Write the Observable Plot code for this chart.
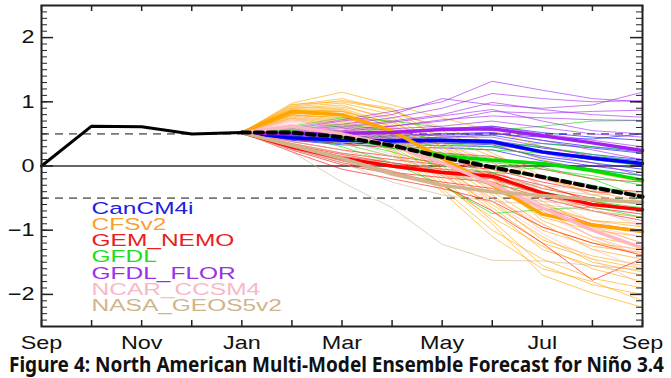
<!DOCTYPE html>
<html><head><meta charset="utf-8">
<script src="https://cdn.jsdelivr.net/npm/d3@7"></script>
<script src="https://cdn.jsdelivr.net/npm/@observablehq/plot@0.6"></script>
<style>
body{margin:0;background:#fff;width:671px;height:378px;overflow:hidden}
#chart svg{display:block}
#title{font-family:"Noto Sans",sans-serif;font-weight:700;font-size:21px;white-space:nowrap;line-height:24px;height:26px;padding-left:9px;color:#111}
#title span{display:inline-block;transform-origin:left center}
</style></head><body>
<div id="chart"></div>
<div id="title"><span>Figure 4: North American Multi-Model Ensemble Forecast for Niño 3.4</span></div>
<script>
// Month index: 0 = Sep (start), 12 = Sep (next year)
const xTickMonths = [0, 2, 4, 6, 8, 10, 12];
const xTickLabels = ["Sep", "Nov", "Jan", "Mar", "May", "Jul", "Sep"];
const yTickValues = [-2, -1, 0, 1, 2];
const yTickLabels = ["−2", "−1", "0", "1", "2"];

const obsMonths = [0, 1, 2, 3, 4];
const observed = [0.00, 0.62, 0.61, 0.50, 0.52];

const fcMonths = [4, 5, 6, 7, 8, 9, 10, 11, 12]; // Jan .. Sep

const models = ["CanCM4i", "CFSv2", "GEM_NEMO", "GFDL", "GFDL_FLOR", "NCAR_CCSM4", "NASA_GEOS5v2"];
const lineColors = ["#0000ff", "#ffa500", "#ff0000", "#00dd00", "#a020f0", "#ffb6c1", "#d2b48c"];
const legendColors = ["#2020e0", "#f8a030", "#e82020", "#20dd20", "#9a30e8", "#f8b8c8", "#d0b48c"];

const CanCM4i_mean = [0.52, 0.44, 0.40, 0.39, 0.40, 0.38, 0.22, 0.12, 0.04];
const CanCM4i_members = [
  [0.52,0.48,0.50,0.52,0.58,0.62,0.52,0.45,0.40],
  [0.52,0.46,0.45,0.47,0.50,0.52,0.40,0.30,0.22],
  [0.52,0.44,0.40,0.38,0.38,0.35,0.20,0.10,0.02],
  [0.52,0.42,0.36,0.33,0.32,0.30,0.15,0.05,-0.05],
  [0.52,0.45,0.42,0.42,0.45,0.48,0.35,0.28,0.20],
  [0.52,0.40,0.33,0.30,0.28,0.25,0.08,-0.05,-0.15],
  [0.52,0.47,0.46,0.44,0.42,0.40,0.28,0.18,0.10],
  [0.52,0.43,0.38,0.36,0.36,0.33,0.12,0.00,-0.10],
  [0.52,0.45,0.44,0.46,0.48,0.50,0.45,0.42,0.50],
  [0.52,0.41,0.35,0.35,0.38,0.36,0.22,0.15,0.08]
];

const CFSv2_mean = [0.52, 0.85, 0.80, 0.55, 0.12, -0.30, -0.75, -0.92, -1.02];
const CFSv2_members = [
  [0.52,0.98,1.15,0.95,0.75,0.55,0.30,0.15,0.00],
  [0.52,0.95,1.05,0.85,0.60,0.35,0.10,-0.10,-0.25],
  [0.52,0.92,0.98,0.80,0.45,0.15,-0.20,-0.40,-0.55],
  [0.52,0.90,0.95,0.70,0.30,-0.05,-0.45,-0.70,-0.80],
  [0.52,0.88,0.90,0.65,0.20,-0.20,-0.60,-0.85,-0.95],
  [0.52,0.86,0.88,0.60,0.15,-0.30,-0.80,-1.00,-1.10],
  [0.52,0.85,0.85,0.55,0.05,-0.45,-1.00,-1.25,-1.35],
  [0.52,0.84,0.82,0.50,0.00,-0.55,-1.15,-1.40,-1.55],
  [0.52,0.83,0.80,0.48,-0.10,-0.70,-1.30,-1.55,-1.70],
  [0.52,0.82,0.78,0.45,-0.20,-0.85,-1.55,-1.85,-2.00],
  [0.52,0.80,0.75,0.42,-0.25,-0.90,-1.70,-1.98,-2.20],
  [0.52,0.80,0.72,0.40,0.10,-0.25,-0.65,-0.85,-0.90],
  [0.52,0.78,0.70,0.35,-0.05,-0.50,-0.95,-1.20,-1.30],
  [0.52,0.76,0.68,0.30,-0.15,-0.60,-1.10,-1.50,-1.65],
  [0.52,0.75,0.65,0.28,-0.30,-0.80,-1.25,-1.60,-1.80],
  [0.52,0.74,0.62,0.25,-0.35,-1.00,-1.45,-1.75,-1.90],
  [0.52,0.72,0.60,0.22,-0.40,-1.10,-1.60,-1.80,-2.10],
  [0.52,0.90,0.92,0.75,0.35,0.05,-0.30,-0.55,-0.70],
  [0.52,0.87,0.86,0.62,0.25,-0.10,-0.55,-0.95,-1.20],
  [0.52,0.96,1.00,0.88,0.55,0.20,-0.15,-0.45,-0.60],
  [0.52,0.82,0.80,0.58,0.10,-0.40,-0.90,-1.30,-1.45],
  [0.52,0.79,0.76,0.52,-0.05,-0.65,-1.20,-1.45,-1.60],
  [0.52,0.93,1.02,0.90,0.40,-0.15,-0.70,-1.10,-1.25],
  [0.52,0.85,0.85,0.68,0.30,-0.20,-0.85,-1.15,-1.40]
];

const GEM_NEMO_mean = [0.52, 0.30, 0.12, 0.00, -0.10, -0.16, -0.42, -0.60, -0.68];
const GEM_NEMO_members = [
  [0.52,0.42,0.35,0.28,0.20,0.15,-0.05,-0.20,-0.25],
  [0.52,0.35,0.20,0.10,0.02,-0.05,-0.25,-0.40,-0.45],
  [0.52,0.30,0.10,-0.02,-0.12,-0.20,-0.45,-0.65,-0.75],
  [0.52,0.25,0.02,-0.12,-0.25,-0.35,-0.65,-0.90,-1.00],
  [0.52,0.22,-0.05,-0.20,-0.35,-0.55,-0.95,-1.20,-1.39],
  [0.52,0.28,0.08,-0.08,-0.30,-0.70,-1.20,-1.78,-1.44],
  [0.52,0.38,0.25,0.15,0.05,0.00,-0.20,-0.35,-0.40],
  [0.52,0.32,0.15,0.05,-0.05,-0.10,-0.35,-0.50,-0.60],
  [0.52,0.27,0.05,-0.10,-0.18,-0.25,-0.50,-0.70,-0.85],
  [0.52,0.33,0.18,0.05,-0.08,-0.12,-0.30,-0.55,-0.70]
];

const GFDL_mean = [0.52, 0.53, 0.46, 0.30, 0.16, 0.09, 0.04, -0.07, -0.22];
const GFDL_members = [
  [0.52,0.62,0.75,0.70,0.60,0.55,0.62,0.70,0.71],
  [0.52,0.58,0.62,0.50,0.35,0.30,0.35,0.30,0.25],
  [0.52,0.55,0.50,0.35,0.20,0.12,0.05,-0.05,-0.15],
  [0.52,0.50,0.40,0.22,0.00,-0.10,-0.15,-0.30,-0.45],
  [0.52,0.48,0.30,0.05,-0.30,-0.74,-0.68,-0.64,-0.80],
  [0.52,0.54,0.48,0.30,0.10,0.00,-0.05,-0.15,-0.30],
  [0.52,0.60,0.65,0.55,0.40,0.35,0.30,0.18,0.05],
  [0.52,0.52,0.44,0.28,0.12,0.05,-0.02,-0.20,-0.50],
  [0.52,0.46,0.35,0.15,-0.10,-0.30,-0.40,-0.55,-0.65],
  [0.52,0.56,0.55,0.42,0.30,0.25,0.20,0.10,0.00]
];

const GFDL_FLOR_mean = [0.52, 0.50, 0.51, 0.52, 0.57, 0.58, 0.47, 0.36, 0.24];
const GFDL_FLOR_members = [
  [0.52,0.60,0.72,0.85,1.00,1.32,1.18,1.05,1.00],
  [0.52,0.58,0.70,0.80,1.05,0.95,0.90,0.95,1.15],
  [0.52,0.56,0.65,0.75,0.90,1.13,1.05,1.00,1.02],
  [0.52,0.55,0.62,0.70,0.80,0.99,0.88,0.80,0.76],
  [0.52,0.53,0.58,0.62,0.70,0.85,0.82,0.85,0.87],
  [0.52,0.52,0.55,0.58,0.62,0.70,0.60,0.50,0.45],
  [0.52,0.50,0.52,0.55,0.58,0.62,0.50,0.40,0.30],
  [0.52,0.48,0.48,0.48,0.50,0.52,0.40,0.25,0.10],
  [0.52,0.47,0.45,0.42,0.45,0.45,0.30,0.15,0.00],
  [0.52,0.50,0.55,0.62,0.72,0.78,0.75,0.72,0.71],
  [0.52,0.45,0.40,0.38,0.35,0.35,0.20,0.05,-0.15],
  [0.52,0.54,0.60,0.68,0.78,0.88,0.70,0.55,0.50]
];

const NCAR_CCSM4_mean = [0.52, 0.62, 0.50, 0.32, 0.05, -0.28, -0.65, -1.00, -1.28];
const NCAR_CCSM4_members = [
  [0.52,0.75,0.70,0.55,0.35,0.10,-0.20,-0.45,-0.60],
  [0.52,0.70,0.62,0.45,0.22,-0.05,-0.40,-0.70,-0.90],
  [0.52,0.65,0.55,0.38,0.10,-0.20,-0.60,-0.95,-1.20],
  [0.52,0.60,0.48,0.30,0.00,-0.35,-0.75,-1.10,-1.40],
  [0.52,0.58,0.45,0.25,-0.10,-0.50,-0.90,-1.30,-1.60],
  [0.52,0.55,0.40,0.18,-0.15,-0.55,-1.05,-1.45,-1.85],
  [0.52,0.68,0.58,0.40,0.15,-0.15,-0.50,-0.85,-1.05],
  [0.52,0.62,0.50,0.35,0.05,-0.30,-0.70,-1.10,-1.35],
  [0.52,0.50,0.35,0.15,-0.10,-0.30,-0.60,-0.95,-1.10],
  [0.52,0.72,0.65,0.50,0.30,0.05,-0.30,-0.65,-0.95]
];

const NASA_GEOS5v2_mean = [0.52, 0.32, 0.12, -0.12, -0.30, -0.40, -0.46, -0.52, -0.57];
const NASA_GEOS5v2_members = [
  [0.52,0.22,-0.25,-0.65,-1.22,-1.47,-1.48,-1.55,-1.62],
  [0.52,0.38,0.25,0.05,-0.15,-0.25,-0.30,-0.38,-0.45],
  [0.52,0.30,0.08,-0.15,-0.30,-0.38,-0.45,-0.50,-0.55],
  [0.52,0.35,0.20,0.00,-0.05,-0.15,-0.35,-0.45,-0.40],
  [0.52,0.28,0.05,-0.25,-0.45,-0.55,-0.60,-0.70,-0.80],
  [0.52,0.33,0.15,-0.08,-0.28,-0.42,-0.55,-0.62,-0.65]
];

const multiModelMean = [0.52, 0.52, 0.45, 0.32, 0.14, -0.02, -0.17, -0.33, -0.48];

// ---- build tables ----
const memberSets = [CanCM4i_members, CFSv2_members, GEM_NEMO_members, GFDL_members, GFDL_FLOR_members, NCAR_CCSM4_members, NASA_GEOS5v2_members];
const meanSets = [CanCM4i_mean, CFSv2_mean, GEM_NEMO_mean, GFDL_mean, GFDL_FLOR_mean, NCAR_CCSM4_mean, NASA_GEOS5v2_mean];

const memberRows = [];
memberSets.forEach((set, mi) => set.forEach((vals, k) => vals.forEach((v, j) =>
  memberRows.push({id: models[mi] + "-" + k, m: fcMonths[j], v, color: lineColors[mi]}))));
const meanRows = [];
meanSets.forEach((vals, mi) => vals.forEach((v, j) =>
  meanRows.push({id: models[mi], m: fcMonths[j], v, color: lineColors[mi]})));
const obsRows = observed.map((v, j) => ({m: obsMonths[j], v}));
const mmRows = multiModelMean.map((v, j) => ({m: fcMonths[j], v}));

const W = 671, H = 352, mL = 41, mR = 29, mT = 5, mB = 26;
const innerW = W - mL - mR, innerH = H - mT - mB;
const allMonths = d3.range(0, 13);
const yMinor = d3.range(-25, 26).map(i => i / 10);

const chart = Plot.plot({
  width: W, height: H,
  marginLeft: mL, marginRight: mR, marginTop: mT, marginBottom: mB,
  style: {fontFamily: "'Liberation Sans', Arial, sans-serif", fontSize: "18px", color: "#111", background: "#fff", overflow: "visible"},
  x: {domain: [0, 12], axis: null},
  y: {domain: [-2.5, 2.5], axis: null},
  color: {type: "identity"},
  marks: [
    Plot.ruleY([0], {stroke: "#333", strokeWidth: 1.6}),
    Plot.ruleY([-0.5, 0.5], {stroke: "#777", strokeWidth: 1.6, strokeDasharray: "8,6"}),
    Plot.line(memberRows, {x: "m", y: "v", z: "id", stroke: "color", strokeWidth: 1, strokeOpacity: 0.6}),
    Plot.line(meanRows, {x: "m", y: "v", z: "id", stroke: "color", strokeWidth: 3.5}),
    Plot.line(obsRows, {x: "m", y: "v", stroke: "#000", strokeWidth: 3}),
    Plot.line(mmRows, {x: "m", y: "v", stroke: "#000", strokeWidth: 4, strokeDasharray: "8,5"}),
    // inward ticks
    Plot.tickY(yMinor, {y: d => d, insetRight: innerW - 6, stroke: "#222"}),
    Plot.tickY(yMinor, {y: d => d, insetLeft: innerW - 6, stroke: "#222"}),
    Plot.tickY(yTickValues, {y: d => d, insetRight: innerW - 12, stroke: "#222", strokeWidth: 1.5}),
    Plot.tickY(yTickValues, {y: d => d, insetLeft: innerW - 12, stroke: "#222", strokeWidth: 1.5}),
    Plot.tickX(allMonths, {x: d => d, insetBottom: innerH - 6, stroke: "#222", strokeWidth: 1.5}),
    Plot.tickX(allMonths, {x: d => d, insetTop: innerH - 6, stroke: "#222", strokeWidth: 1.5}),
    Plot.frame({stroke: "#222", strokeWidth: 2}),
    Plot.axisX(xTickMonths, {anchor: "bottom", tickSize: 0, tickPadding: 10, label: null, tickFormat: (d, i) => xTickLabels[i]}),
    Plot.axisY(yTickValues, {anchor: "left", tickSize: 0, tickPadding: 7, label: null, tickFormat: (d, i) => yTickLabels[i]}),
    Plot.text(models, {x: 1.0, y: (d, i) => -0.66 - 0.252 * i, text: d => d, fill: (d, i) => legendColors[i],
      textAnchor: "start", lineAnchor: "middle", fontSize: 17})
  ]
});
document.getElementById("chart").appendChild(chart);

function stretch(sel, k) {
  chart.querySelectorAll(sel).forEach(t => {
    const tr = t.getAttribute("transform");
    if (tr) t.setAttribute("transform", tr + ` scale(${k},1)`);
    else {
      const x = +(t.getAttribute("x") || 0);
      t.removeAttribute("x");
      t.setAttribute("transform", `translate(${x},0) scale(${k},1)`);
    }
  });
}
stretch('g[aria-label="x-axis tick label"] text', 1.3);
stretch('g[aria-label="y-axis tick label"] text', 1.3);
stretch('g[aria-label="text"] text', 1.44);

const span = document.querySelector("#title span");
const w = span.getBoundingClientRect().width;
span.style.transform = `scaleX(${655 / w})`;
</script>
</body></html>
